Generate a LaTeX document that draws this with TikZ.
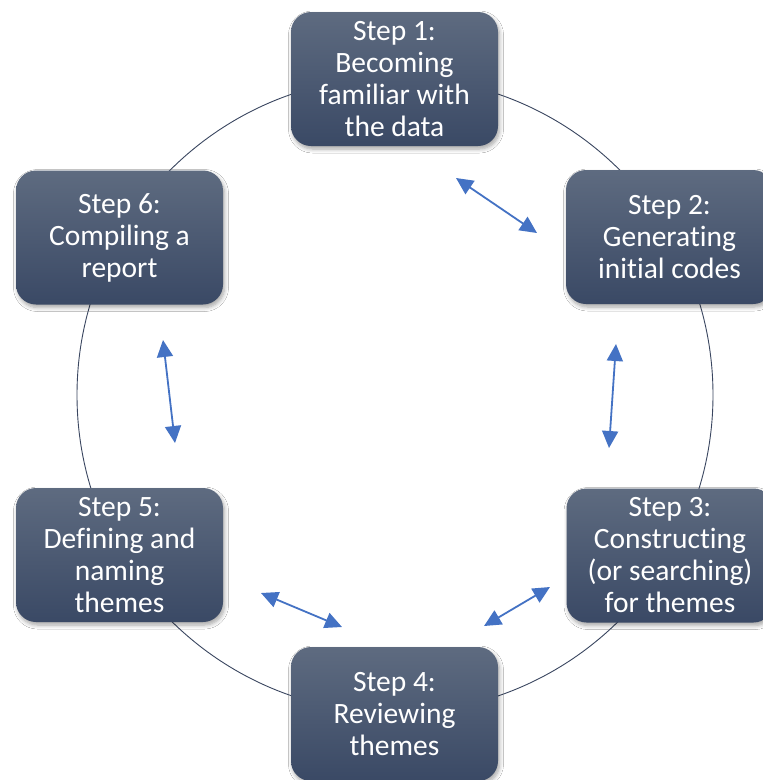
\documentclass[tikz,border=0pt]{standalone}
\usepackage{fontspec}
\setmainfont{Carlito}[Ligatures={NoCommon}]
\usetikzlibrary{shadows.blur,arrows.meta}
\definecolor{boxtop}{HTML}{5E6B80}
\definecolor{boxbot}{HTML}{3A4965}
\definecolor{ringcol}{HTML}{3A4660}
\definecolor{arrcol}{HTML}{4472C4}
\tikzset{
  stepbox/.style={rectangle, rounded corners=20pt, minimum width=207pt, minimum height=134pt,
    top color=boxtop, bottom color=boxbot, text=white, align=center, inner sep=0pt,
    font=\fontsize{29.5}{32}\selectfont,
    blur shadow={shadow xshift=1.5pt, shadow yshift=-3pt, shadow blur steps=6, shadow blur radius=4pt, shadow opacity=35}},
  ring/.style={draw=ringcol, line width=0.9pt},
  biarrow/.style={draw=arrcol, line width=1.8pt, {Triangle[length=17pt,width=16pt]}-{Triangle[length=17pt,width=16pt]}}
}
\begin{document}
\begin{tikzpicture}[x=1pt,y=-1pt]
\useasboundingbox (0,0) rectangle (763,780);
\clip (0,0) rectangle (763,780);
\fill[white] (0,0) rectangle (763,780);
\coordinate (c) at (395,395);
\draw[ring] (c) circle[radius=318pt];
\node[stepbox] (s1) at (394.5,79) {Step 1:\\Becoming\\familiar with\\the data};
\node[stepbox] (s2) at (669.5,237) {Step 2:\\Generating\\initial codes};
\node[stepbox] (s3) at (670,555.5) {Step 3:\\Constructing\\(or searching)\\for themes};
\node[stepbox] (s4) at (394.5,714) {Step 4:\\Reviewing\\themes};
\node[stepbox] (s5) at (119.5,555) {Step 5:\\Defining and\\naming\\themes};
\node[stepbox] (s6) at (119.5,237.5) {Step 6:\\Compiling a\\report};
\coordinate (a1s) at (456,178); \coordinate (a1e) at (537,233);
\coordinate (a2s) at (616,344); \coordinate (a2e) at (609,448);
\coordinate (a3s) at (550,587); \coordinate (a3e) at (484,626);
\coordinate (a4s) at (261,593); \coordinate (a4e) at (342,627);
\coordinate (a5s) at (175,443); \coordinate (a5e) at (163,340);
\draw[biarrow] (a1s) -- (a1e);
\draw[biarrow] (a2s) -- (a2e);
\draw[biarrow] (a3s) -- (a3e);
\draw[biarrow] (a4s) -- (a4e);
\draw[biarrow] (a5s) -- (a5e);
\end{tikzpicture}
\end{document}
